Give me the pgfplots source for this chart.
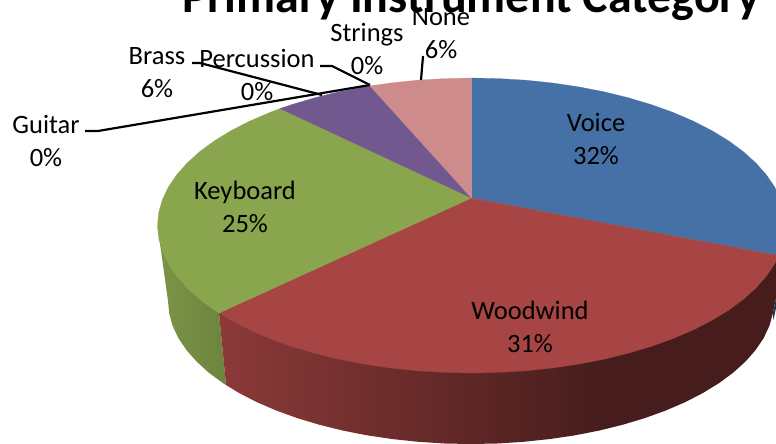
\documentclass[border=0pt]{standalone}
\usepackage{pgfplots}
\pgfplotsset{compat=1.18}
\usepackage{fontspec}
\setmainfont{Carlito}
\definecolor{voicecol}{HTML}{4571A6}
\definecolor{woodcol}{HTML}{A64543}
\definecolor{keybcol}{HTML}{89A54E}
\definecolor{brasscol}{HTML}{71588F}
\definecolor{nonecol}{HTML}{CD8C8B}
\newcommand{\lbl}[3]{\node[align=center,inner sep=0pt,font=\fontsize{26.5}{33}\selectfont] at (axis cs:#1,#2) {#3};}
\begin{document}
\begin{tikzpicture}
\clip (0,0) rectangle (776pt,444pt);
\begin{axis}[
  scale only axis, width=776pt, height=444pt,
  xmin=0, xmax=776, ymin=0, ymax=444, y dir=reverse,
  hide axis, clip=false,
]
% side walls: the top faces drawn later cover their upper edges
\addplot[draw=none, shade, left color=keybcol!90!black, right color=keybcol!80!black] coordinates {
 (157.5,225.5) (219,313) (226,385) (222.8,383) (208.6,372.5) (196.4,361.4) (186.3,349.9)
 (178.3,338) (172.6,325.8) (169.2,313.5) (168,301)} -- cycle;
\addplot[draw=none, fill=woodcol!42!black] coordinates {
 (599,355) (776,258) (776,298) (772.8,313.5) (769.4,325.8) (763.7,338) (755.7,349.9)
 (745.6,361.4) (733.4,372.5) (719.2,383) (703.1,392.9) (685.3,402.1) (665.8,410.5)
 (644.8,418.1) (622.5,424.8) (599,430.6)} -- cycle;
\addplot[draw=none, shade, left color=woodcol!84!black, right color=woodcol!42!black] coordinates {
 (219,313) (604.2,359.2) (599,430.6) (574.6,435.4) (549.4,439.1) (523.6,441.8) (497.4,443.5)
 (471,444) (444.6,443.5) (418.4,441.8) (392.6,439.1) (367.4,435.4) (343,430.6) (319.5,424.8)
 (297.2,418.1) (276.2,410.5) (256.7,402.1) (238.9,392.9) (226,385)} -- cycle;
\addplot[draw=none, fill=voicecol!45!black] coordinates {
 (776,298) (776,308) (773.5,320) (772.8,313.5)} -- cycle;
% top faces
\addplot[draw=voicecol, line width=0.2pt, fill=voicecol] coordinates {
 (471.5,198) (471.5,78) (498.9,78.6) (526,80.2) (552.8,83) (578.9,86.9) (604.2,91.8)
 (628.5,97.8) (651.6,104.7) (673.3,112.5) (693.5,121.2) (712,130.7) (728.7,140.9)
 (743.4,151.7) (756.1,163.2) (766.6,175.1) (774.8,187.3) (776,190) (776,255)} -- cycle;
\addplot[draw=woodcol, line width=0.2pt, fill=woodcol] coordinates {
 (471.5,198) (776,255) (776,261) (774.8,263.7) (766.6,275.9) (756.1,287.8) (743.4,299.3)
 (728.7,310.1) (712,320.3) (693.5,329.8) (673.3,338.5) (651.6,346.3) (628.5,353.2)
 (604.2,359.2) (578.9,364.1) (552.8,368) (526,370.8) (498.9,372.4) (471.5,373)
 (444.1,372.4) (417,370.8) (390.2,368) (364.1,364.1) (338.8,359.2) (314.5,353.2)
 (291.4,346.3) (269.7,338.5) (249.5,329.8) (231,320.3) (219,313)} -- cycle;
\addplot[draw=keybcol, line width=0.2pt, fill=keybcol] coordinates {
 (471.5,198) (219,313) (214.3,310.1) (199.6,299.3) (186.9,287.8) (176.4,275.9) (168.2,263.7)
 (162.3,251.1) (158.7,238.4) (157.5,225.5) (158.7,212.6) (162.3,199.9) (168.2,187.3)
 (176.4,175.1) (186.9,163.2) (199.6,151.7) (214.3,140.9) (231,130.7) (249.5,121.2)
 (269.7,112.5) (280,108.6)} -- cycle;
\addplot[draw=brasscol, line width=0.2pt, fill=brasscol] coordinates {
 (471.5,198) (280,108.6) (291.4,104.7) (314.5,97.8) (338.8,91.8) (364.1,86.9) (370,85.9)} -- cycle;
\addplot[draw=nonecol, line width=0.2pt, fill=nonecol] coordinates {
 (471.5,198) (370,85.9) (390.2,83) (417,80.2) (444.1,78.6) (471.5,78)} -- cycle;
% leader lines
\addplot[black, line width=2.2pt] coordinates {(85,131) (98,131) (370,85)};
\addplot[black, line width=2.2pt] coordinates {(192,63) (200,63) (322,95)};
\addplot[black, line width=2.2pt] coordinates {(320,66) (332,66) (370,85)};
\addplot[black, line width=2.2pt] coordinates {(423,56) (421,80)};
% title and data labels
\node[anchor=base, inner sep=0pt, font=\fontsize{48}{50}\selectfont\bfseries] at (axis cs:471,12.5) {Primary Instrument Category};
\lbl{596}{138.5}{Voice\\32\%}
\lbl{530}{326.5}{Woodwind\\31\%}
\lbl{245}{206.5}{Keyboard\\25\%}
\lbl{46}{140.5}{Guitar\\0\%}
\lbl{157}{72.5}{Brass\\6\%}
\lbl{257}{74.5}{Percussion\\0\%}
\lbl{367}{48.5}{Strings\\0\%}
\lbl{441}{33.5}{None\\6\%}
\end{axis}
\end{tikzpicture}
\end{document}
